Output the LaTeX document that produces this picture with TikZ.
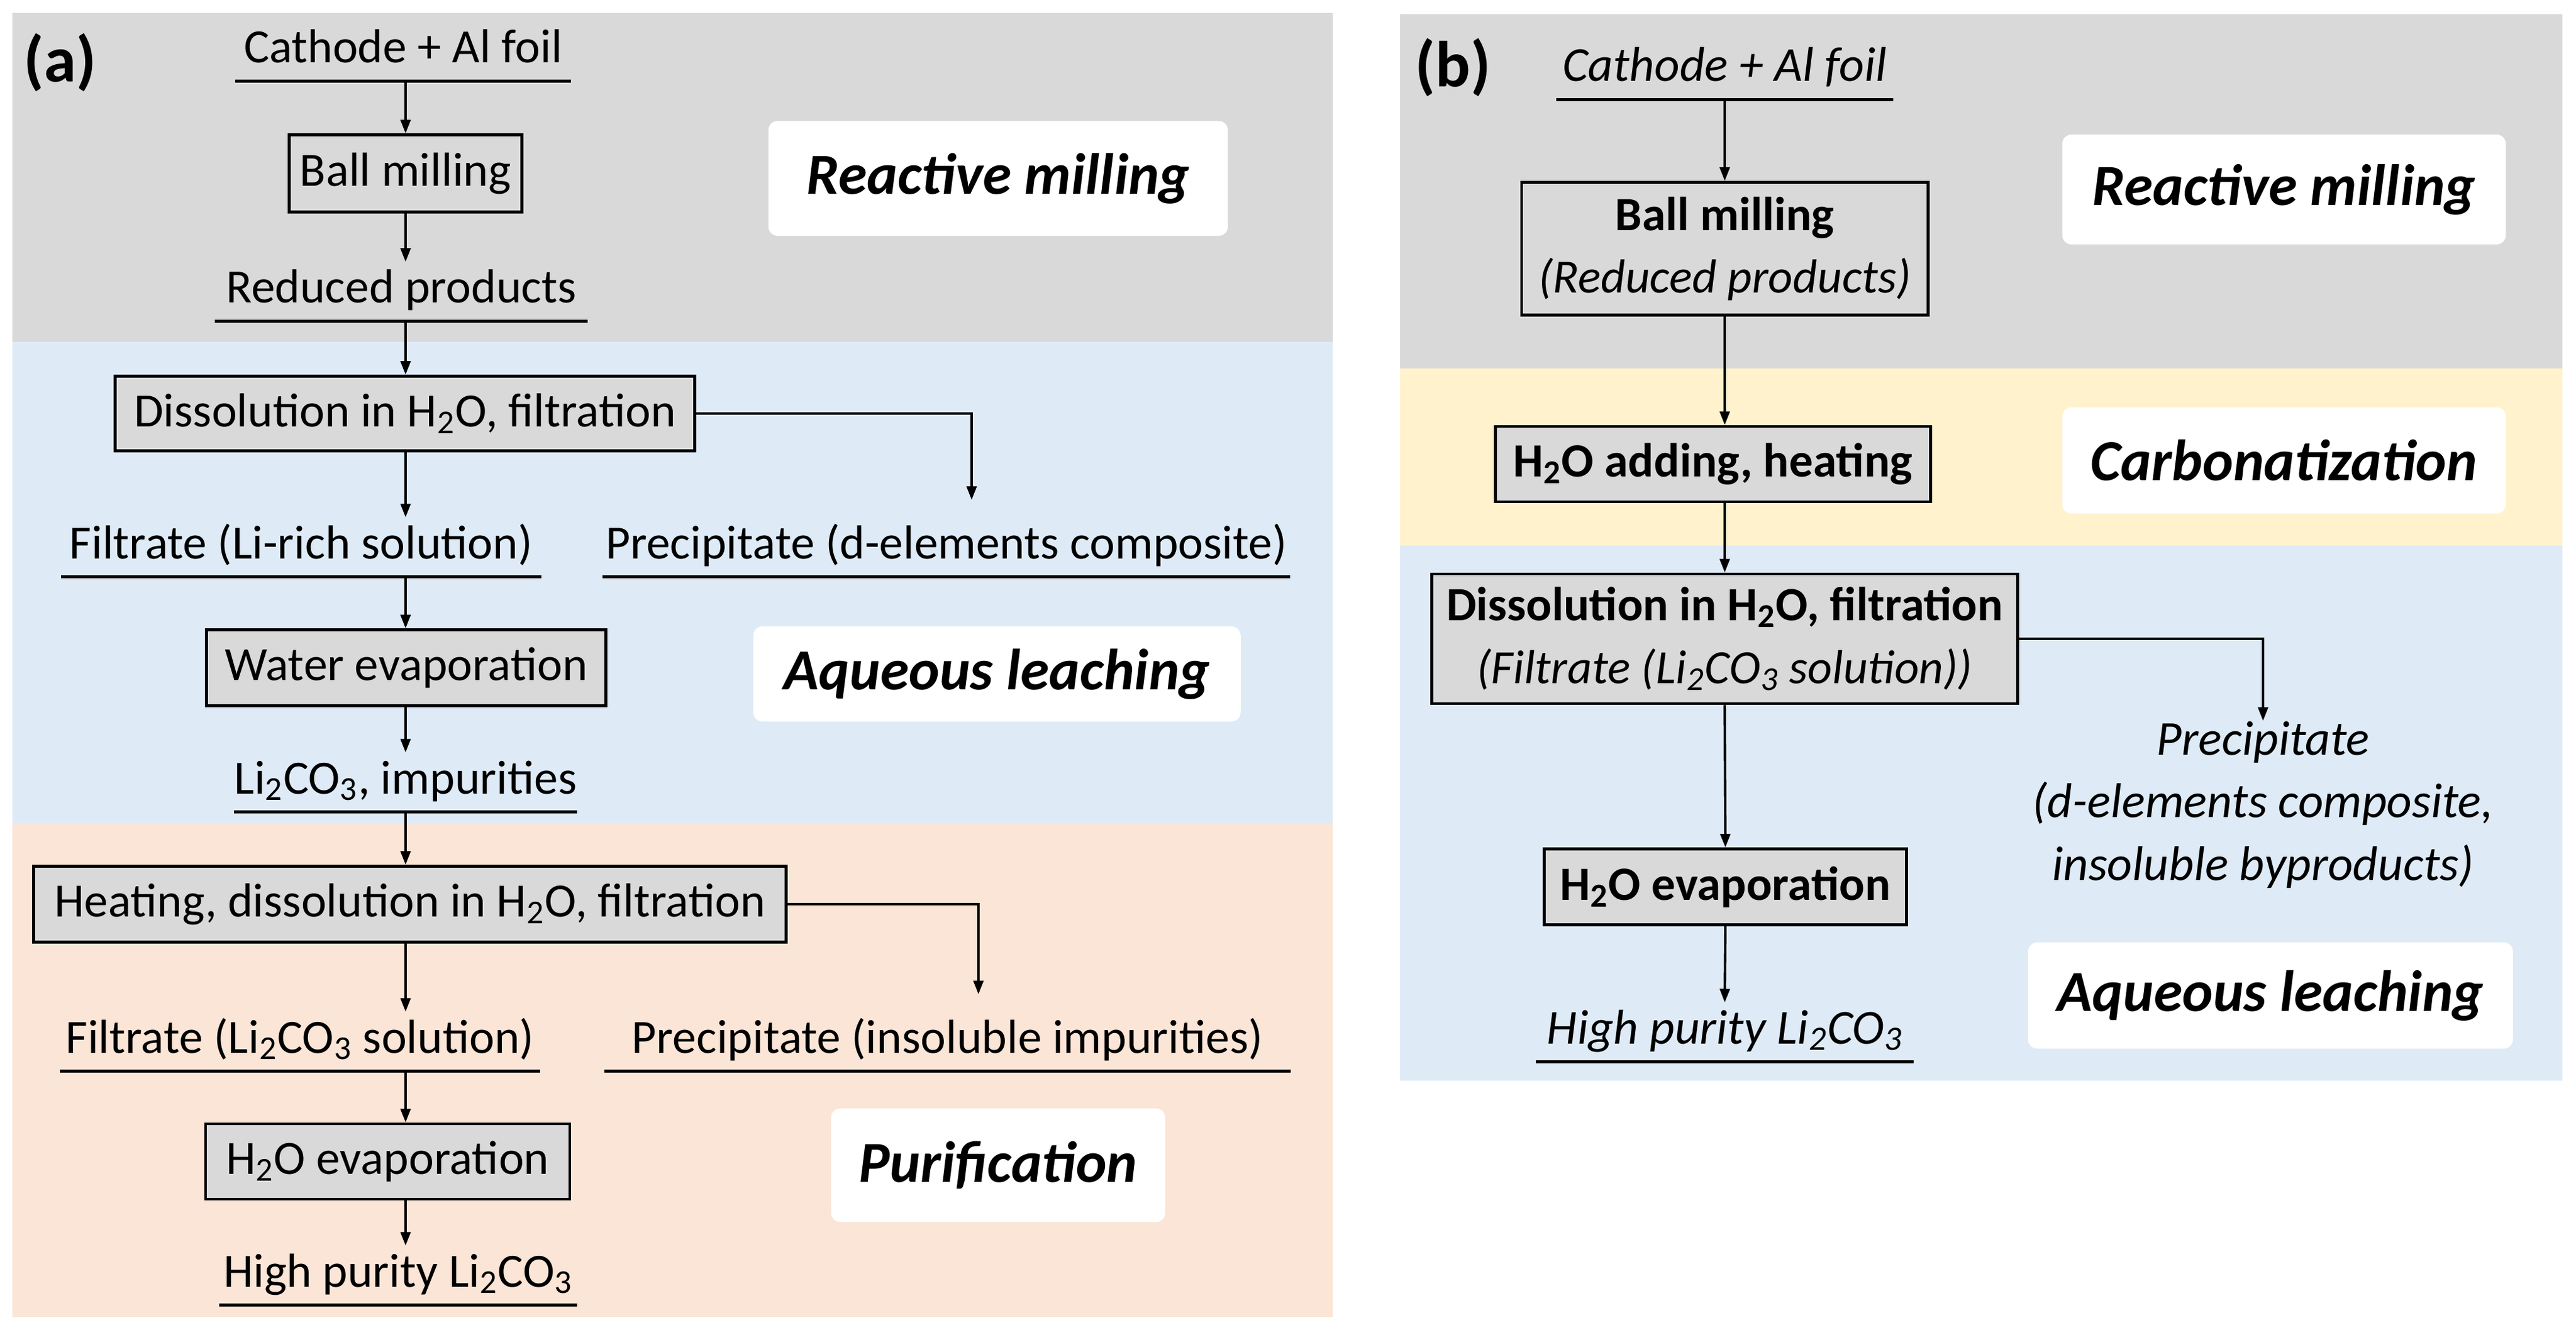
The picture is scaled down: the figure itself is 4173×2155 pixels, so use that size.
\documentclass[tikz,border=0pt]{standalone}
\usepackage{fontspec}
\setmainfont{Carlito}
\usetikzlibrary{arrows.meta, calc}
\definecolor{millgray}{RGB}{217, 217, 217}
\definecolor{leachblue}{RGB}{222, 235, 247}
\definecolor{purifyorange}{RGB}{251, 229, 214}
\definecolor{carbyellow}{RGB}{255, 242, 204}
\definecolor{stepgray}{RGB}{217, 217, 217}
\newcommand{\LiCO}{Li\textsubscript{2}CO\textsubscript{3}}
\newcommand{\HHO}{H\textsubscript{2}O}
\tikzset{
  txt/.style={font=\fontsize{22}{26}\selectfont},
  proc/.style={txt, draw, line width=1.3pt, fill=stepgray, inner sep=0pt, align=center},
  prod/.style={txt, inner xsep=0pt, inner ysep=0pt, text height=0.66cm, text depth=0.29cm, minimum width=#1, anchor=base},
  uline/.style={line width=1.4pt},
  flow/.style={line width=1.1pt, -{Triangle[length=0.22cm, width=0.16cm]}},
  stage/.style={fill=white, rounded corners=0.15cm, inner sep=0pt, font=\fontsize{26.8}{31}\selectfont\bfseries\itshape},
  panel/.style={font=\fontsize{30}{34}\selectfont\bfseries}
}
\begin{document}
\begin{tikzpicture}[x=0.01cm, y=-0.01cm]
 \useasboundingbox (0,0) rectangle (4173,2155);
 \fill[white] (0,0) rectangle (4173,2155);

 % Background bands of panel (a)
 \fill[millgray] (20,21) rectangle (2159,554);
 \fill[leachblue] (20,554) rectangle (2159,1335);
 \fill[purifyorange] (20,1335) rectangle (2159,2134);
 % Background bands of panel (b)
 \fill[millgray] (2268,23) rectangle (4151,597);
 \fill[carbyellow] (2268,597) rectangle (4151,884);
 \fill[leachblue] (2268,884) rectangle (4151,1751);

 % Stage labels
 \node[stage, minimum width=7.44cm, minimum height=1.86cm] (stA1) at (1617,289) {Reactive milling};
 \node[stage, minimum width=7.89cm, minimum height=1.54cm] (stA2) at (1615,1092) {Aqueous leaching};
 \node[stage, minimum width=5.41cm, minimum height=1.84cm] (stA3) at (1617,1888) {Purification};
 \node[stage, minimum width=7.18cm, minimum height=1.78cm] (stB1) at (3700,307) {Reactive milling};
 \node[stage, minimum width=7.18cm, minimum height=1.72cm] (stB2) at (3700,746) {Carbonatization};
 \node[stage, minimum width=7.85cm, minimum height=1.72cm] (stB3) at (3678,1613) {Aqueous leaching};

 \node[panel] (pa) at (97,101) {(a)};
 \node[panel] (pb) at (2354,109) {(b)};

 % Panel (a): products and steps
 \node[prod=5.42cm] (cat) at (653,102) {Cathode + Al foil};
 \node[proc, minimum width=3.77cm, minimum height=1.25cm] (ball) at (657,281) {Ball milling};
 \node[prod=6.03cm] (red) at (650,491) {Reduced products};
 \node[proc, minimum width=9.38cm, minimum height=1.21cm] (diss) at (656,670) {Dissolution in \HHO, filtration};
 \node[prod=7.77cm] (filtA) at (488,905) {Filtrate (Li-rich solution)};
 \node[prod=11.11cm] (precA) at (1533,905) {Precipitate (d-elements composite)};
 \node[proc, minimum width=6.47cm, minimum height=1.23cm] (wevap) at (658,1082) {Water evaporation};
 \node[prod=5.55cm] (imp) at (657,1286) {\LiCO, impurities};
 \node[proc, minimum width=12.18cm, minimum height=1.23cm] (heat) at (664,1465) {Heating, dissolution in \HHO, filtration};
 \node[prod=7.77cm] (filtB) at (486,1706) {Filtrate (\LiCO\ solution)};
 \node[prod=11.10cm] (precB) at (1535,1706) {Precipitate (insoluble impurities)};
 \node[proc, minimum width=5.90cm, minimum height=1.22cm] (evapA) at (628,1882) {\HHO\ evaporation};
 \node[prod=5.79cm] (hpA) at (645,2085) {High purity \LiCO};

 \coordinate (brA) at (1574,810);
 \coordinate (brB) at (1585,1611);

 \foreach \n in {cat,red,filtA,precA,imp,filtB,precB,hpA} {
  \draw[uline] (\n.south west) -- (\n.south east);
 }

 % Panel (a): flow
 \draw[flow] (cat.south -| ball.south) -- (ball.north);
 \draw[flow] (ball.south) -- (red.north -| ball.south);
 \draw[flow] (red.south -| ball.south) -- (diss.north -| ball.south);
 \draw[flow] (diss.south -| ball.south) -- (filtA.north -| ball.south);
 \draw[flow] (diss.east) -| (brA);
 \draw[flow] (filtA.south -| ball.south) -- (wevap.north -| ball.south);
 \draw[flow] (wevap.south -| ball.south) -- (imp.north -| ball.south);
 \draw[flow] (imp.south -| ball.south) -- (heat.north -| ball.south);
 \draw[flow] (heat.south -| ball.south) -- (filtB.north -| ball.south);
 \draw[flow] (heat.east) -| (brB);
 \draw[flow] (filtB.south -| ball.south) -- (evapA.north -| ball.south);
 \draw[flow] (evapA.south -| ball.south) -- (hpA.north -| ball.south);

 % Panel (b): products and steps
 \node[prod=5.44cm, font=\fontsize{22.5}{26}\selectfont\itshape] (catB) at (2794,132) {Cathode + Al foil};
 \node[proc, minimum width=6.58cm, minimum height=2.15cm] (ballB) at (2794,403)
  {\textbf{Ball milling}\\[0.1cm]\textit{(Reduced products)}};
 \node[proc, minimum width=7.05cm, minimum height=1.22cm, font=\fontsize{22}{26}\selectfont\bfseries] (addB) at (2775,752) {\HHO\ adding, heating};
 \node[proc, minimum width=9.48cm, minimum height=2.10cm] (dissB) at (2794,1035)
  {\textbf{Dissolution in \HHO, filtration}\\[0.1cm]\textit{(Filtrate (\LiCO\ solution))}};
 \node[txt, font=\fontsize{22.5}{26}\selectfont\itshape, align=center, anchor=north, inner sep=0pt] (precC) at (3666,1168)
  {Precipitate\\[0.1cm](d-elements composite,\\[0.1cm]insoluble byproducts)};
 \node[proc, minimum width=5.87cm, minimum height=1.23cm, font=\fontsize{22}{26}\selectfont\bfseries] (evapB) at (2795,1437) {\HHO\ evaporation};
 \node[prod=6.10cm, font=\fontsize{22.5}{26}\selectfont\itshape] (hpB) at (2794,1691) {High purity \LiCO};

 \foreach \n in {catB,hpB} {
  \draw[uline] (\n.south west) -- (\n.south east);
 }

 % Panel (b): flow
 \draw[flow] (catB.south) -- (ballB.north);
 \draw[flow] (ballB.south) -- (addB.north -| ballB.south);
 \draw[flow] (addB.south -| ballB.south) -- (dissB.north);
 \draw[flow] (dissB.east) -| (precC.north);
 \draw[flow] (dissB.south) -- (evapB.north);
 \draw[flow] (evapB.south) -- (hpB.north);
\end{tikzpicture}
\end{document}
